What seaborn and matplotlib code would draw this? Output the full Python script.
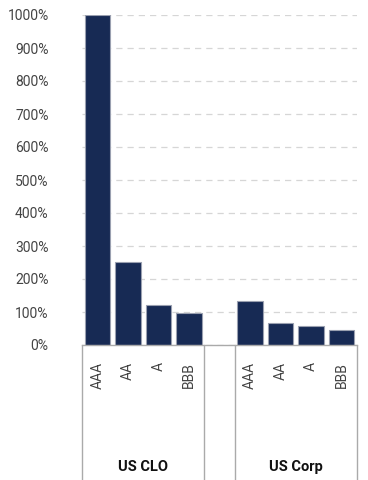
import pandas as pd
import seaborn as sns
import matplotlib.pyplot as plt

# values (percent)
groups = ["US CLO", "US Corp"]
ratings = ["AAA", "AA", "A", "BBB"]
clo_values = [1000, 252, 121, 96]
corp_values = [133, 67, 59, 45]
y_ticks = [0, 100, 200, 300, 400, 500, 600, 700, 800, 900, 1000]

# one empty slot between the two groups
slots = [f"{groups[0]} {r}" for r in ratings] + ["gap"] + [f"{groups[1]} {r}" for r in ratings]
df = pd.DataFrame({"slot": slots,
                   "value": clo_values + [float("nan")] + corp_values})
tick_labels = ratings + [""] + ratings

sns.set_style("white")
plt.rcParams['font.family'] = ['Roboto', 'DejaVu Sans']

fig = plt.figure(figsize=(3.68, 4.8), dpi=100)
ax = fig.add_axes([82 / 368, 135 / 480, 275 / 368, 330 / 480])

sns.barplot(data=df, x="slot", y="value", order=slots, color="#172a54",
            saturation=1, width=0.83, edgecolor="#9aa0b0", linewidth=0.8, ax=ax)

ax.set_ylim(0, 1000)
ax.set_xlim(-0.5, 8.5)
ax.set_yticks(y_ticks)
ax.set_yticklabels([f"{t}%" for t in y_ticks])
ax.set_xticks(range(len(slots)))
ax.set_xticklabels(tick_labels, rotation=90, va="top", ha="center")
ax.set_xlabel("")
ax.set_ylabel("")
ax.tick_params(axis="y", length=0, pad=24, labelsize=10, labelcolor="#444444")
ax.tick_params(axis="x", length=0, pad=12, labelsize=10, labelcolor="#444444")

ax.grid(axis="y", linestyle=(0, (5, 4)), color="#d6d6d6", linewidth=0.9)
ax.set_axisbelow(True)
for side in ["top", "right", "left"]:
    ax.spines[side].set_visible(False)
ax.spines["bottom"].set_color("#aaaaaa")
ax.spines["bottom"].set_linewidth(1)

# group separators and labels below the axis
trans = ax.get_xaxis_transform()
for xb in [-0.5, 3.5, 4.5, 8.5]:
    ax.plot([xb, xb], [0, -0.42], color="#aaaaaa", linewidth=1,
            transform=trans, clip_on=False)
ax.text(1.5, -0.37, groups[0], transform=trans, ha="center", va="center",
        fontsize=10.5, fontweight="bold", color="#111111")
ax.text(6.5, -0.37, groups[1], transform=trans, ha="center", va="center",
        fontsize=10.5, fontweight="bold", color="#111111")

plt.savefig("out.png", dpi=100)
